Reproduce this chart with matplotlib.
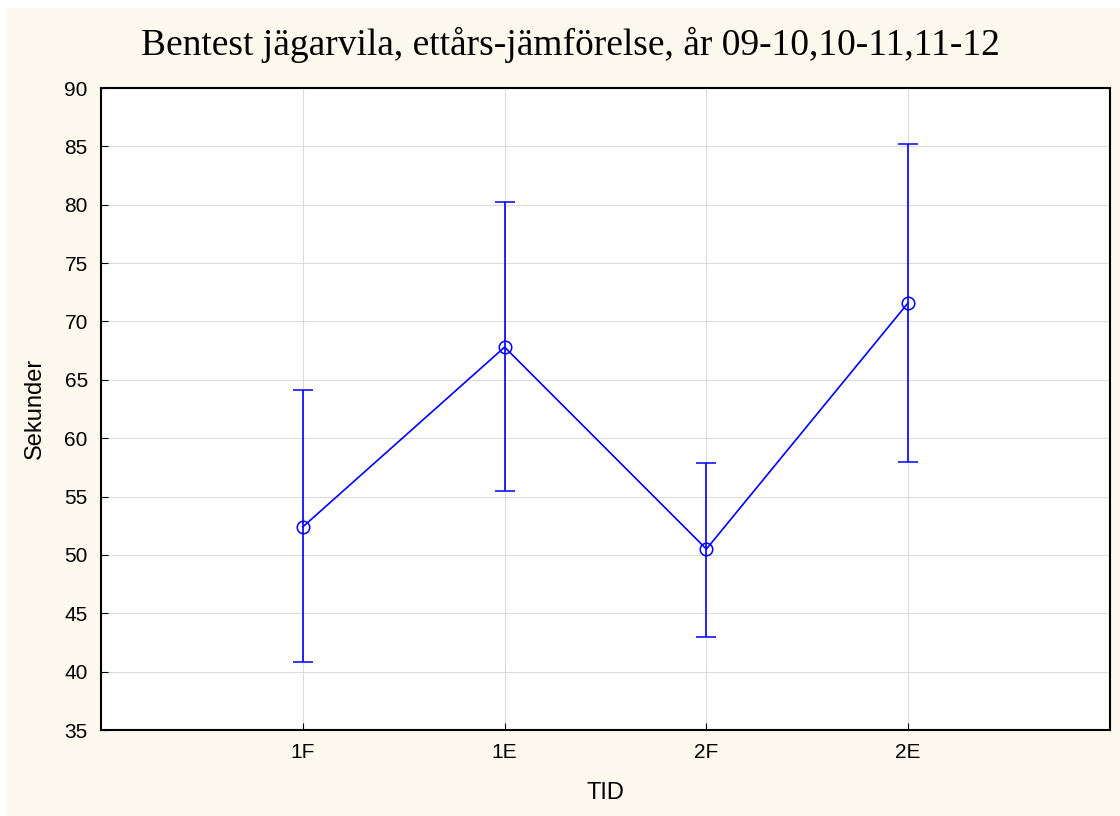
import matplotlib
matplotlib.use("Agg")
import matplotlib.pyplot as plt
from matplotlib.patches import Rectangle

categories = ["1F", "1E", "2F", "2E"]
means = [52.4, 67.8, 50.5, 71.6]
upper = [64.1, 80.2, 57.9, 85.2]
lower = [40.8, 55.5, 43.0, 58.0]

err_low = [m - l for m, l in zip(means, lower)]
err_high = [u - m for m, u in zip(means, upper)]
x = list(range(len(categories)))

cream = "#fef9ee"
fig = plt.figure(figsize=(11.2, 8.16), dpi=100, facecolor=cream)
# thin white strip on top and left edges
fig.patches.append(Rectangle((0, 1 - 8 / 816), 1, 8 / 816, transform=fig.transFigure,
                             facecolor="white", edgecolor="none", zorder=-5))
fig.patches.append(Rectangle((0, 0), 7 / 1120, 1, transform=fig.transFigure,
                             facecolor="white", edgecolor="none", zorder=-5))

ax = fig.add_axes([101 / 1120, 1 - 730 / 816, (1110 - 101) / 1120, (730 - 88) / 816])
ax.set_facecolor("white")

ax.errorbar(x, means, yerr=[err_low, err_high], color="blue", lw=1.2, ecolor="blue",
            elinewidth=1.2, capsize=7, capthick=1.2, marker="o", markersize=9,
            markerfacecolor="none", markeredgecolor="blue", markeredgewidth=1.1, zorder=3)

ax.set_xlim(-1, 4)
ax.set_ylim(35, 90)
ax.set_xticks(x)
ax.set_xticklabels(categories)
ax.set_yticks(range(35, 91, 5))
ax.grid(True, color="#dcdcdc", lw=0.8)
ax.set_axisbelow(True)
ax.tick_params(direction="in", length=5, labelsize=15)
ax.tick_params(axis="y", pad=9.5)
ax.tick_params(axis="x", pad=9)
for lab in ax.get_xticklabels() + ax.get_yticklabels():
    lab.set_family("Liberation Sans")
for s in ax.spines.values():
    s.set_linewidth(1.5)

fig.text(605 / 1120, 1 - 793 / 816, "TID", family="Liberation Sans", fontsize=17,
         ha="center", va="center")
fig.text(35 / 1120, 1 - 408 / 816, "Sekunder", family="Liberation Sans", fontsize=17,
         rotation=90, ha="center", va="center")
fig.text(570 / 1120, 1 - 45 / 816, "Bentest jägarvila, ettårs-jämförelse, år 09-10,10-11,11-12",
         family="Liberation Serif", fontsize=27, ha="center", va="center")

fig.savefig("out.png", dpi=100, facecolor=fig.get_facecolor())
